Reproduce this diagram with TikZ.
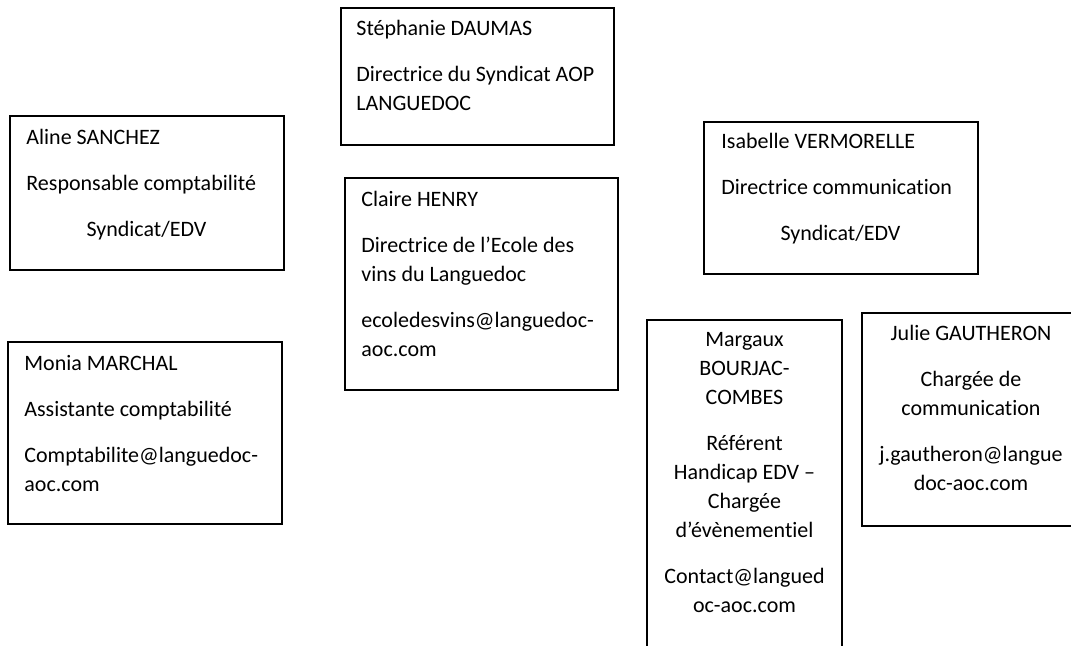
\documentclass[tikz,border=0pt]{standalone}
\usepackage{fontspec}
\setmainfont{Carlito}[Ligatures=CommonOff]
\usetikzlibrary{positioning,calc,fit}
\tikzset{card/.style={draw,line width=1pt,inner sep=0pt},
  txt/.style={inner sep=0pt,font=\fontsize{11}{14.5}\selectfont,text width=#1},txt/.default=130pt}

\begin{document}
\begin{tikzpicture}[x=0.5pt,y=-0.5pt]
  \useasboundingbox (0,0) rectangle (1071,646);
  \clip (0,0) rectangle (1071,646);

  % frames
  \foreach \n/\xa/\ya/\xb/\yb in {daumas/341/8/614/145, sanchez/10/116/284/270, henry/345/178/618/390, vermorelle/704/122/978/274, marchal/8/342/282/524, bourjac/647/320/842/680, gautheron/862/313/1080/526}
    \node (\n) [card, fit={(\xa,\ya) (\xb,\yb)}] {};

  % left aligned texts
  \node (daumas-t) [txt, align=flush left, anchor=base west] at ($(daumas.north west)+(16,29)$)
    {Stéphanie DAUMAS\\[8.5pt]Directrice du Syndicat AOP\\LANGUEDOC};
  \node (sanchez-t) [txt, align=flush left, anchor=base west] at ($(sanchez.north west)+(17,29.5)$)
    {Aline SANCHEZ\\[8.5pt]Responsable comptabilité\\[8.5pt]\makebox[120pt]{Syndicat/EDV}};
  \node (henry-t) [txt, align=flush left, anchor=base west] at ($(henry.north west)+(17,29.5)$)
    {Claire HENRY\\[8.5pt]Directrice de l’Ecole des\\vins du Languedoc\\[8.5pt]ecoledesvins@languedoc-\\aoc.com};
  \node (vermorelle-t) [txt, align=flush left, anchor=base west] at ($(vermorelle.north west)+(18,28)$)
    {Isabelle VERMORELLE\\[8.5pt]Directrice communication\\[8.5pt]\makebox[119pt]{Syndicat/EDV}};
  \node (marchal-t) [txt, align=flush left, anchor=base west] at ($(marchal.north west)+(17,30)$)
    {Monia MARCHAL\\[8.5pt]Assistante comptabilité\\[8.5pt]Comptabilite@languedoc-\\aoc.com};

  % centred texts
  \node (bourjac-t) [txt=95pt, align=flush center, anchor=base] at ($(bourjac.north)+(0,28)$)
    {Margaux\\BOURJAC-\\COMBES\\[8.5pt]Référent\\Handicap EDV –\\Chargée\\d’évènementiel\\[8.5pt]Contact@langued\\oc-aoc.com};
  \node (gautheron-t) [txt=105pt, align=flush center, anchor=base] at ($(gautheron.north)+(0,29)$)
    {Julie GAUTHERON\\[8.5pt]Chargée de\\communication\\[8.5pt]j.gautheron@langue\\doc-aoc.com};
\end{tikzpicture}
\end{document}
